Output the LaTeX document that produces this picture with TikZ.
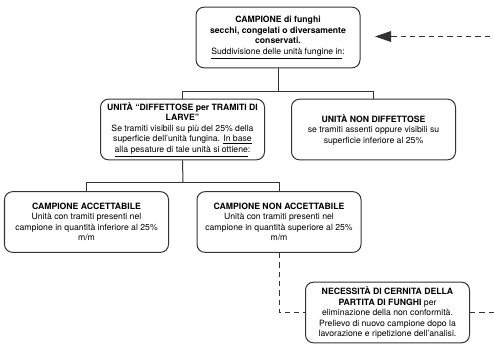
\documentclass[tikz,border=0pt]{standalone}
\usepackage{fontspec}
\setmainfont{TeX Gyre Heros}
\usepackage{tikz}
\usetikzlibrary{arrows.meta}
\usepackage{xcolor}

\definecolor{linegray}{gray}{0.2}

\tikzset{
    schedabox/.style={draw=linegray, line width=0.75pt, rounded corners=6pt,
        minimum width=123pt, minimum height=45.5pt, inner sep=1pt,
        align=center, font=\fontsize{6.5}{7.9}\selectfont},
    ramo/.style={draw=linegray, line width=0.75pt},
    ritorno/.style={draw=linegray, line width=0.75pt, dash pattern=on 4pt off 3pt}
}

\begin{document}
\begin{tikzpicture}[x=0.75pt,y=-0.75pt]
    \useasboundingbox (0,0) rectangle (494,344);

    % Campione iniziale
    \node (campione) [schedabox] at (278,37.5)
        {\textbf{CAMPIONE di funghi}\\
         \textbf{secchi, congelati o diversamente}\\
         \textbf{conservati.}\\
         \underline{Suddivisione delle unità fungine in}:};

    % Unita' difettose / non difettose
    \node (difettose) [schedabox] at (182.5,129.5)
        {\textbf{UNITÀ “DIFFETTOSE per TRAMITI DI}\\
         \textbf{LARVE”}\\
         Se tramiti visibili su più del 25\% della\\
         superficie dell’unità fungina. \underline{In base}\\
         \underline{alla pesature di tale unità si ottiene}:};
    \node (nondifettose) [schedabox] at (373.5,129.5)
        {\textbf{UNITÀ NON DIFFETTOSE}\\
         se tramiti assenti oppure visibili su\\
         superficie inferiore al 25\%};

    % Esito del campione
    \node (accettabile) [schedabox] at (86.5,222)
        {\textbf{CAMPIONE ACCETTABILE}\\
         Unità con tramiti presenti nel\\
         campione in quantità inferiore al 25\%\\
         m/m};
    \node (nonaccettabile) [schedabox] at (279,222)
        {\textbf{CAMPIONE NON ACCETTABILE}\\
         Unità con tramiti presenti nel\\
         campione in quantità superiore al 25\%\\
         m/m};

    % Cernita
    \node (cernita) [schedabox] at (387.5,312.5)
        {\textbf{NECESSITÀ DI CERNITA DELLA}\\
         \textbf{PARTITA DI FUNGHI} per\\
         eliminazione della non conformità.\\
         Prelievo di nuovo campione dopo la\\
         lavorazione e ripetizione dell’analisi.};

    % Rami dell'albero
    \coordinate (snodo1) at (278,91);
    \coordinate (snodo2) at (183,182);
    \draw [ramo] (campione.south) -- (snodo1);
    \draw [ramo] (snodo1) -| (difettose.north);
    \draw [ramo] (snodo1) -| (nondifettose.north);
    \draw [ramo] (difettose.south) -- (snodo2);
    \draw [ramo] (snodo2) -| (accettabile.north);
    \draw [ramo] (snodo2) -| (nonaccettabile.north);

    % Ritorno tratteggiato
    \coordinate (ingresso) at (375,36.5);
    \coordinate (spigolo) at (510,312.5);
    \draw [ritorno] (nonaccettabile.south) |- (cernita.west);
    \draw [ritorno, -{Triangle[length=12pt,width=8pt]}]
        (cernita.east) -- (spigolo) |- (ingresso);
\end{tikzpicture}
\end{document}
